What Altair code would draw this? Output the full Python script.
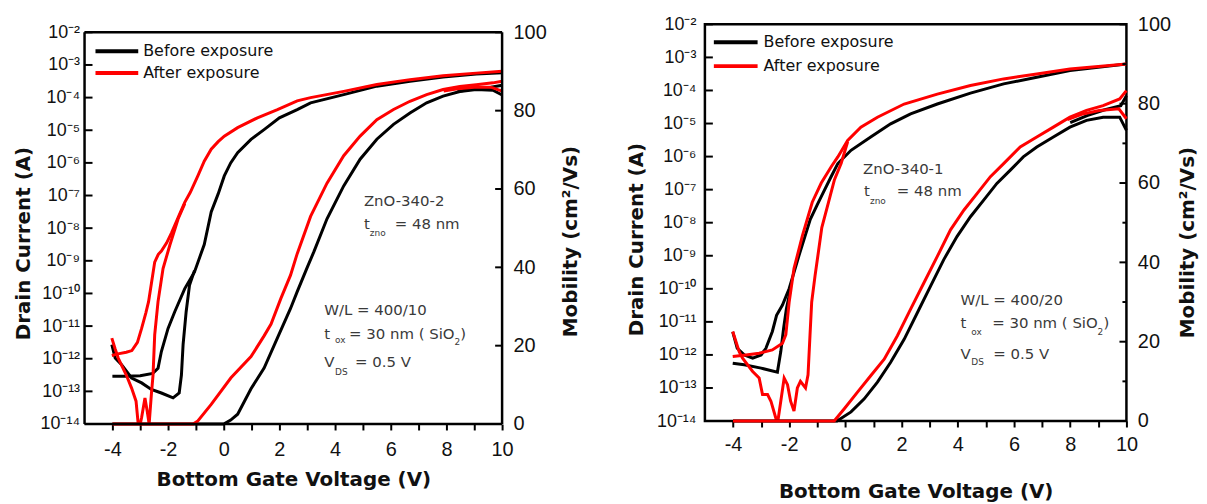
import json
import altair as alt
import pandas as pd

# ------------------------------------------------------------------ data
STATES = ["Before exposure", "After exposure"]
COLORS = ["#000000", "#ff0000"]

# ---- left panel (ZnO-340-2): drain current, log10(I)
L_BI_A_V = [-4.0, -3.5, -3.0, -2.55, -2.36, -2.24, -2.0, -1.76, -1.4, -1.05, -0.7, -0.45, -0.2, 0.02, 0.25, 0.5,
            0.98, 1.45, 2.0, 2.64, 3.12, 4.31, 5.5, 6.69, 7.88, 9.07, 10.0]
L_BI_A_E = [-12.54, -12.54, -12.52, -12.45, -12.29, -11.78, -11.07, -10.56, -9.85, -9.34, -8.5, -7.5, -6.95, -6.4,
            -6.0, -5.69, -5.28, -4.98, -4.62, -4.37, -4.16, -3.91, -3.65, -3.5, -3.37, -3.28, -3.24]
L_BI_B_V = [-4.02, -3.9, -3.67, -3.31, -2.95, -2.6, -2.24, -1.82, -1.6, -1.52, -1.46, -1.35, -1.23, -1.05]
L_BI_B_E = [-11.57, -11.98, -12.18, -12.59, -12.74, -12.94, -13.05, -13.2, -13.05, -12.5, -11.57, -10.56, -9.75, -9.3]
L_AI_C_V = [-4.02, -3.8, -3.5, -3.3, -3.1, -2.95, -2.8, -2.7, -2.6, -2.48, -2.35, -2.24, -2.05, -1.88, -1.6, -1.4,
            -1.2, -0.93, -0.7, -0.45, -0.2, 0.02, 0.5, 1.21, 1.93, 2.64, 3.12, 4.31, 5.5, 6.69, 7.88, 9.07, 10.0]
L_AI_C_E = [-11.9, -11.85, -11.8, -11.75, -11.5, -11.07, -10.6, -10.25, -9.7, -9.04, -8.8, -8.7, -8.45, -8.15, -7.6,
            -7.21, -6.9, -6.4, -5.95, -5.58, -5.35, -5.18, -4.92, -4.62, -4.37, -4.1, -4.0, -3.81, -3.6, -3.45,
            -3.33, -3.25, -3.19]
L_AI_D_V = [-4.02, -3.9, -3.79, -3.5, -3.31, -3.15, -3.05, -2.95, -2.83, -2.75, -2.68, -2.6, -2.54, -2.48, -2.36,
            -2.18, -1.94, -1.64, -1.4]
L_AI_D_E = [-11.37, -11.7, -11.98, -12.5, -12.9, -13.3, -14.2, -13.8, -13.2, -13.6, -14.0, -13.1, -12.5, -11.27,
            -10.25, -9.24, -8.53, -7.72, -7.25]

# ---- left panel: mobility (cm2/Vs)
L_BM_V = [-4.0, 0.0, 0.25, 0.5, 0.98, 1.45, 1.93, 2.4, 2.64, 3.0, 3.24, 3.71, 4.31, 4.9, 5.5, 6.1, 6.69, 7.29, 7.88,
          8.48, 9.07, 9.67, 10.0]
L_BM_M = [0, 0, 1.0, 2.5, 9.0, 14.3, 22.0, 29.5, 33.8, 40.0, 44.0, 52.4, 60.8, 67.6, 72.7, 76.5, 79.4, 82.0, 83.7,
          84.9, 85.4, 85.2, 84.0]
L_BM2_V = [10.0, 9.6, 9.0, 8.4]
L_BM2_M = [86.5, 86.0, 85.6, 84.9]
L_AM_V = [-4.0, -1.1, -0.93, -0.45, 0.26, 0.98, 1.45, 1.7, 2.05, 2.4, 2.64, 3.12, 3.71, 4.31, 4.9, 5.5, 6.1, 6.69,
          7.29, 7.88, 8.48, 9.07, 9.67, 10.0]
L_AM_M = [0, 0, 0.8, 5.0, 11.8, 17.2, 22.5, 25.5, 32.0, 38.0, 43.5, 53.0, 61.5, 68.5, 73.5, 77.7, 80.3, 82.4, 84.1,
          85.4, 86.2, 86.6, 87.1, 87.5]
L_AM2_V = [10.0, 9.6, 9.0, 8.4, 7.9]
L_AM2_M = [85.0, 86.0, 86.0, 85.6, 85.0]

# ---- right panel (ZnO-340-1): drain current, log10(I)
R_BI_A_V = [-4.01, -3.6, -3.0, -2.42, -2.3, -2.2, -2.1, -1.95]
R_BI_A_E = [-12.25, -12.3, -12.4, -12.52, -11.9, -11.2, -10.6, -10.0]
R_BI_B_V = [-4.01, -3.85, -3.6, -3.3, -3.0, -2.83, -2.6, -2.45, -2.24, -2.0, -1.65, -1.25, -1.0, -0.86, -0.51,
            -0.27, 0.2, 0.9, 1.61, 2.32, 3.27, 4.45, 5.63, 6.81, 7.99, 10.0]
R_BI_B_E = [-11.3, -11.8, -12.0, -12.1, -12.0, -11.8, -11.29, -10.8, -10.49, -9.99, -8.99, -7.9, -7.45, -7.21,
            -6.61, -6.21, -5.81, -5.41, -5.01, -4.71, -4.41, -4.08, -3.8, -3.6, -3.4, -3.2]
R_AI_E_V = [-4.01, -3.54, -3.07, -2.6, -2.24, -2.12, -2.0, -1.83, -1.53, -1.18, -0.86, -0.5, -0.27, 0.08, 0.55,
            1.14, 2.09, 3.27, 4.45, 5.63, 6.81, 7.99, 10.0]
R_AI_E_E = [-12.05, -12.0, -11.95, -11.85, -11.65, -11.39, -10.39, -9.39, -8.39, -7.38, -6.8, -6.3, -6.01, -5.51,
            -5.11, -4.81, -4.41, -4.11, -3.85, -3.65, -3.5, -3.35, -3.2]
R_AI_F_V = [-4.01, -3.78, -3.66, -3.3, -3.07, -2.95, -2.77, -2.65, -2.48, -2.42, -2.3, -2.18, -2.06, -1.95, -1.83,
            -1.71, -1.6, -1.42, -1.33, -1.26, -1.2, -1.08, -0.98, -0.84, -0.6, -0.39, -0.15, 0.08]
R_AI_F_E = [-11.29, -11.9, -12.1, -12.5, -12.7, -13.2, -13.2, -13.4, -13.9, -14.1, -13.4, -12.7, -12.9, -13.4,
            -13.7, -13.0, -12.8, -13.0, -12.6, -11.4, -10.4, -9.6, -9.0, -8.15, -7.38, -6.7, -6.2, -5.55]

# ---- right panel: mobility
R_BM_V = [-4.0, -0.3, 0.2, 0.67, 1.14, 1.61, 2.09, 2.56, 3.03, 3.5, 3.97, 4.45, 4.92, 5.39, 5.86, 6.33, 6.81, 7.4,
          7.99, 8.58, 9.17, 9.76, 10.0]
R_BM_M = [0, 0, 2.3, 5.6, 9.8, 14.8, 20.6, 27.3, 34.0, 40.7, 46.5, 51.5, 55.7, 59.9, 63.2, 66.6, 69.1, 71.6, 74.1,
          75.8, 76.6, 76.6, 73.3]
R_BM2_V = [10.0, 9.8, 9.2, 8.6, 8.0]
R_BM2_M = [82.0, 79.5, 78.4, 77.0, 75.2]
R_AM_V = [-4.0, -0.4, -0.04, 0.43, 0.9, 1.38, 1.85, 2.32, 2.79, 3.27, 3.74, 4.22, 4.69, 5.16, 5.63, 6.22, 6.81, 7.4,
          7.99, 8.58, 9.17, 9.76, 10.0]
R_AM_M = [0, 0, 3.1, 7.3, 11.4, 15.6, 21.5, 28.2, 34.8, 41.5, 48.2, 53.2, 57.4, 61.6, 64.9, 69.1, 71.6, 74.1, 76.6,
          78.3, 79.5, 81.2, 83.3]
R_AM2_V = [10.0, 9.73, 9.03, 8.4, 7.9]
R_AM2_M = [76.2, 78.7, 78.3, 77.3, 76.0]

# ---- ticks / labels
DECADES = [1e-14, 1e-13, 1e-12, 1e-11, 1e-10, 1e-9, 1e-8, 1e-7, 1e-6, 1e-5, 1e-4, 1e-3, 1e-2]
DECADE_LABELS = ["10⁻¹⁴", "10⁻¹³", "10⁻¹²", "10⁻¹¹", "10⁻¹⁰", "10⁻⁹", "10⁻⁸", "10⁻⁷", "10⁻⁶",
                 "10⁻⁵", "10⁻⁴", "10⁻³", "10⁻²"]
MOB_MAJOR = [0, 20, 40, 60, 80, 100]
MOB_MINOR = [10, 30, 50, 70, 90]
X_TICKS = [-4, -3, -2, -1, 0, 1, 2, 3, 4, 5, 6, 7, 8, 9, 10]

LEFT_NOTES = [("ZnO-340-2", 281, 170, 15), ("t", 281, 193, 15), ("zno", 287, 202, 9), ("= 48 nm", 312, 193, 15),
              ("W/L = 400/10", 241, 279, 15), ("t", 241, 303, 15), ("ox", 252, 310, 9),
              ("= 30 nm ( SiO", 266, 303, 15), ("2", 372, 312, 9), (")", 378, 303, 15),
              ("V", 241, 332, 15), ("DS", 252, 342, 9), ("= 0.5 V", 272, 332, 15)]
RIGHT_NOTES = [("ZnO-340-1", 159, 146, 15), ("t", 160, 168, 15), ("zno", 166, 178, 9), ("= 48 nm", 193, 168, 15),
               ("W/L = 400/20", 257, 277, 15), ("t", 257, 300, 15), ("ox", 268, 309, 9),
               ("= 30 nm ( SiO", 289, 300, 15), ("2", 395, 309, 9), (")", 401, 300, 15),
               ("V", 257, 332, 15), ("DS", 268, 340, 9), ("= 0.5 V", 290, 332, 15)]


# ------------------------------------------------------------------ helpers
def frame(curves, log_values):
    rows = []
    for state, branch, vs, ys in curves:
        for i, (v, y) in enumerate(zip(vs, ys)):
            rows.append({"state": state, "branch": branch, "idx": i, "V": v,
                         "val": (10.0 ** y) if log_values else y})
    return pd.DataFrame(rows)


ONE = pd.DataFrame({"k": [0]})


def text_mark(s, x, y, size, color="#3a3a3a"):
    return alt.Chart(ONE).mark_text(align="left", baseline="middle", font="DejaVu Sans",
                                    fontSize=size, color=color).encode(
        x=alt.value(x), y=alt.value(y), text=alt.value(s))


def rule(x0, x1, y0, y1, width=2.5):
    return alt.Chart(ONE).mark_rule(color="black", strokeWidth=width).encode(
        x=alt.value(x0), x2=alt.value(x1), y=alt.value(y0), y2=alt.value(y1))


def legend_entry(label, color, x0, x1, y, tx):
    line = alt.Chart(ONE).mark_rule(color=color, strokeWidth=4).encode(
        x=alt.value(x0), x2=alt.value(x1), y=alt.value(y))
    return [line, text_mark(label, tx, y, 16, "#111111")]


label_expr = json.dumps(DECADE_LABELS, ensure_ascii=False) + "[round(log(datum.value) / LN10) + 14]"


def build_panel(cur_curves, mob_curves, notes, leg, W, H, top, o, minor):
    # `top` = blank pixels kept above the framed area (frame drawn by hand then)
    frame_h = H - top
    c_top = 10 ** (-2 + top * 12.0 / frame_h)
    m_top = 100.0 * H / frame_h
    X = alt.X("V:Q", scale=alt.Scale(domain=[-5, 10], nice=False, zero=False),
              axis=alt.Axis(values=X_TICKS, labelExpr="datum.value % 2 == 0 ? '' + datum.value : ''",
                            tickSize=6, tickWidth=2, tickColor="black", domain=False, grid=False,
                            labelFlush=False, labelFont="Liberation Sans", labelFontSize=20,
                            labelColor="#111111", labelPadding=o["xlp"],
                            title="Bottom Gate Voltage (V)", titleFont="DejaVu Sans", titleFontSize=20,
                            titleFontWeight="bold", titleColor="#111111", titlePadding=o["xtp"]))
    color = alt.Color("state:N", scale=alt.Scale(domain=STATES, range=COLORS), legend=None)
    cscale = alt.Scale(type="log", domain=[1e-14, c_top], nice=False)
    mscale = alt.Scale(domain=[0, m_top], nice=False, zero=False)

    cur = alt.Chart(frame(cur_curves, True)).mark_line(strokeWidth=3, clip=True).encode(
        x=X,
        y=alt.Y("val:Q", scale=cscale,
                axis=alt.Axis(values=DECADES, labelExpr=label_expr, ticks=False, tickSize=0, domain=False,
                              grid=False, labelOverlap=False, labelFlush=False, labelFont="Liberation Sans",
                              labelFontSize=18, labelColor="#111111", labelPadding=o["ylp"],
                              title="Drain Current (A)", titleFont="DejaVu Sans", titleFontSize=20,
                              titleFontWeight="bold", titleColor="#111111", titlePadding=o["ytp"],
                              titleY=o["yty"])),
        color=color, detail="branch:N", order="idx:Q")
    cur_ticks = alt.Chart(pd.DataFrame({"val": DECADES})).mark_rule(color="black", strokeWidth=2).encode(
        y=alt.Y("val:Q", scale=cscale, axis=None), x=alt.value(0), x2=alt.value(8))

    mob = alt.Chart(frame(mob_curves, False)).mark_line(strokeWidth=3).encode(
        x=X,
        y=alt.Y("val:Q", scale=mscale,
                axis=alt.Axis(orient="right", values=MOB_MAJOR, ticks=False, tickSize=0, domain=False,
                              grid=False, labelFlush=False, labelOverlap=False, labelFont="Liberation Sans",
                              labelFontSize=20, labelColor="#111111", labelPadding=o["mlp"],
                              title="Mobility (cm²/Vs)", titleFont="DejaVu Sans", titleFontSize=20,
                              titleFontWeight="bold", titleColor="#111111", titlePadding=o["mtp"],
                              titleAngle=270, titleBaseline="top", titleY=o["mty"])),
        color=color, detail="branch:N", order="idx:Q")
    layers = [cur, cur_ticks, mob,
              alt.Chart(pd.DataFrame({"val": MOB_MAJOR})).mark_rule(color="black", strokeWidth=2).encode(
                  y=alt.Y("val:Q", scale=mscale, axis=None), x=alt.value(W - 7), x2=alt.value(W))]
    if minor:
        layers.append(
            alt.Chart(pd.DataFrame({"val": MOB_MINOR})).mark_rule(color="black", strokeWidth=2).encode(
                y=alt.Y("val:Q", scale=mscale, axis=None), x=alt.value(W - 4), x2=alt.value(W)))
    if top > 0:
        layers += [rule(0, W, top, top), rule(0, W, H, H), rule(0, 0, top, H), rule(W, W, top, H)]

    layers += legend_entry(STATES[0], COLORS[0], leg[0], leg[1], leg[2] + top, leg[4])
    layers += legend_entry(STATES[1], COLORS[1], leg[0], leg[1], leg[3] + top, leg[4])
    for s, x, y, size in notes:
        layers.append(text_mark(s, x, y + top, size))

    ch = alt.layer(*layers).resolve_scale(y="independent").properties(width=W, height=H)
    if top > 0:
        ch = ch.properties(view=alt.ViewBackground(stroke="transparent"))
    return ch


left = build_panel(
    [(STATES[0], "LB_A", L_BI_A_V, L_BI_A_E), (STATES[0], "LB_B", L_BI_B_V, L_BI_B_E),
     (STATES[1], "LA_C", L_AI_C_V, L_AI_C_E), (STATES[1], "LA_D", L_AI_D_V, L_AI_D_E)],
    [(STATES[0], "LBM", L_BM_V, L_BM_M), (STATES[0], "LBM2", L_BM2_V, L_BM2_M),
     (STATES[1], "LAM", L_AM_V, L_AM_M), (STATES[1], "LAM2", L_AM2_V, L_AM2_M)],
    LEFT_NOTES, (11, 54, 19, 41, 59), 420, 402, 8,
    dict(xlp=10, xtp=10, ylp=5, ytp=7, yty=220, mlp=11, mtp=14, mty=218), False,
)

right = build_panel(
    [(STATES[0], "RB_A", R_BI_A_V, R_BI_A_E), (STATES[0], "RB_B", R_BI_B_V, R_BI_B_E),
     (STATES[1], "RA_E", R_AI_E_V, R_AI_E_E), (STATES[1], "RA_F", R_AI_F_V, R_AI_F_E)],
    [(STATES[0], "RBM", R_BM_V, R_BM_M), (STATES[0], "RBM2", R_BM2_V, R_BM2_M),
     (STATES[1], "RAM", R_AM_V, R_AM_M), (STATES[1], "RAM2", R_AM2_V, R_AM2_M)],
    RIGHT_NOTES, (9, 53, 18, 42, 59), 424, 399, 0,
    dict(xlp=8, xtp=27, ylp=9, ytp=10, yty=216, mlp=11, mtp=7, mty=219), True,
)

chart = alt.hconcat(left, right, spacing=44).properties(
    padding={"left": 4, "top": 3, "right": 0, "bottom": 0}
).configure_view(stroke="black", strokeWidth=2.5)

chart.save("out.html", embed_options={"renderer": "svg", "actions": False})
